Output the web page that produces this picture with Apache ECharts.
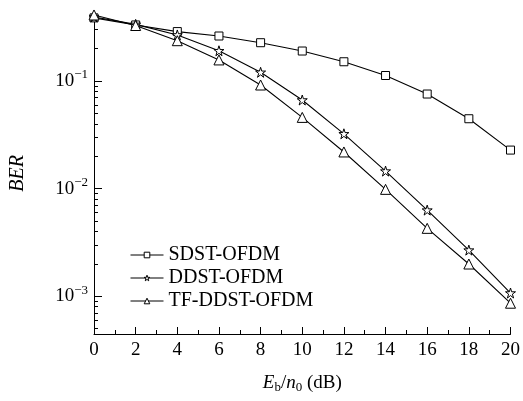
<!DOCTYPE html>
<html>
<head>
<meta charset="utf-8">
<script src="https://cdn.jsdelivr.net/npm/echarts@6/dist/echarts.min.js"></script>
<style>
  html, body { margin: 0; padding: 0; background: #fff; }
  #chart { width: 523px; height: 401px; }
</style>
</head>
<body>
<div id="chart"></div>
<script>
// Eb/n0 (dB)
const ebn0 = [0, 2, 4, 6, 8, 10, 12, 14, 16, 18, 20];
// BER
const sdst   = [0.386, 0.332, 0.288, 0.262, 0.227, 0.190, 0.151, 0.1125, 0.0757, 0.0446, 0.0228];
const ddst   = [0.394, 0.336, 0.268, 0.191, 0.1205, 0.0666, 0.0323, 0.01455, 0.00631, 0.00268, 0.00107];
const tfddst = [0.411, 0.328, 0.237, 0.157, 0.0918, 0.0459, 0.0219, 0.00984, 0.00427, 0.00199, 0.00086];

const seriesNames = ['SDST-OFDM', 'DDST-OFDM', 'TF-DDST-OFDM'];
const yMajorTicks = [0.001, 0.01, 0.1];
const yMinorTicks = [0.0005, 0.0006, 0.0007, 0.0008, 0.0009,
  0.002, 0.003, 0.004, 0.005, 0.006, 0.007, 0.008, 0.009,
  0.02, 0.03, 0.04, 0.05, 0.06, 0.07, 0.08, 0.09,
  0.2, 0.3, 0.4];

const serif = '"Liberation Serif", "Times New Roman", serif';
const starPath = 'path://M50,2 L61,36 L97,36 L68,57 L79,92 L50,70 L21,92 L32,57 L3,36 L39,36 Z';

function pairs(ys) {
  return ebn0.map((x, i) => [x, ys[i]]);
}

function lineSeries(name, ys, symbol, size) {
  return {
    name: name,
    type: 'line',
    data: pairs(ys),
    symbol: symbol,
    symbolSize: size,
    showSymbol: true,
    lineStyle: { color: '#000', width: 1.1 },
    itemStyle: { color: '#fff', borderColor: '#000', borderWidth: 1 },
    emphasis: { disabled: true },
    z: 3
  };
}

const chart = echarts.init(document.getElementById('chart'));

const yRange = { min: 0.000445, max: 0.4315 };

chart.setOption({
  animation: false,
  backgroundColor: '#fff',
  textStyle: { fontFamily: serif, color: '#000' },
  grid: { left: 93, right: 10, top: 12.7, bottom: 67, containLabel: false },
  legend: {
    data: seriesNames,
    orient: 'vertical',
    left: 130,
    top: 245,
    padding: 0,
    itemWidth: 33,
    itemHeight: 7,
    itemGap: 3,
    itemStyle: { color: '#fff', borderColor: '#000', borderWidth: 1 },
    lineStyle: { color: '#000', width: 1 },
    textStyle: { fontFamily: serif, fontSize: 20, color: '#000' }
  },
  xAxis: {
    type: 'value',
    min: 0,
    max: 20,
    interval: 2,
    name: '{i|E}{sub|b}{n|/}{i|n}{sub|0}{n| (dB)}',
    nameLocation: 'middle',
    nameGap: 38,
    nameTextStyle: {
      rich: {
        i: { fontFamily: serif, fontStyle: 'italic', fontSize: 19, color: '#000' },
        n: { fontFamily: serif, fontSize: 19, color: '#000' },
        sub: { fontFamily: serif, fontSize: 13, color: '#000', padding: [9, 0, 0, 0] }
      }
    },
    axisLine: { lineStyle: { color: '#000', width: 1 } },
    axisTick: { inside: true, length: 7, lineStyle: { color: '#000' } },
    minorTick: { show: true, splitNumber: 2, length: 4, lineStyle: { color: '#000' } },
    splitLine: { show: false },
    axisLabel: { fontFamily: serif, fontSize: 19, color: '#000', margin: 7 }
  },
  yAxis: [
    {
      type: 'log',
      min: yRange.min,
      max: yRange.max,
      name: 'BER',
      nameLocation: 'middle',
      nameRotate: 90,
      nameGap: 66,
      nameTextStyle: { fontFamily: serif, fontStyle: 'italic', fontSize: 20, color: '#000' },
      axisLine: { lineStyle: { color: '#000', width: 1 } },
      axisTick: { inside: true, length: 8, customValues: yMajorTicks, lineStyle: { color: '#000' } },
      splitLine: { show: false },
      axisLabel: {
        customValues: yMajorTicks,
        margin: 6,
        formatter: function (v) {
          const e = Math.round(Math.log10(v));
          return '{b|10}{s|\u2212' + Math.abs(e) + '}';
        },
        rich: {
          b: { fontFamily: serif, fontSize: 19, color: '#000' },
          s: { fontFamily: serif, fontSize: 13, color: '#000', padding: [0, 0, 12, 0] }
        }
      }
    },
    {
      type: 'log',
      min: yRange.min,
      max: yRange.max,
      position: 'left',
      axisLine: { show: false },
      axisTick: { inside: true, length: 4, customValues: yMinorTicks, lineStyle: { color: '#000' } },
      axisLabel: { show: false },
      splitLine: { show: false }
    }
  ],
  series: [
    lineSeries(seriesNames[0], sdst, 'rect', 8),
    lineSeries(seriesNames[1], ddst, starPath, 10),
    lineSeries(seriesNames[2], tfddst, 'triangle', 10)
  ]
});
</script>
</body>
</html>
